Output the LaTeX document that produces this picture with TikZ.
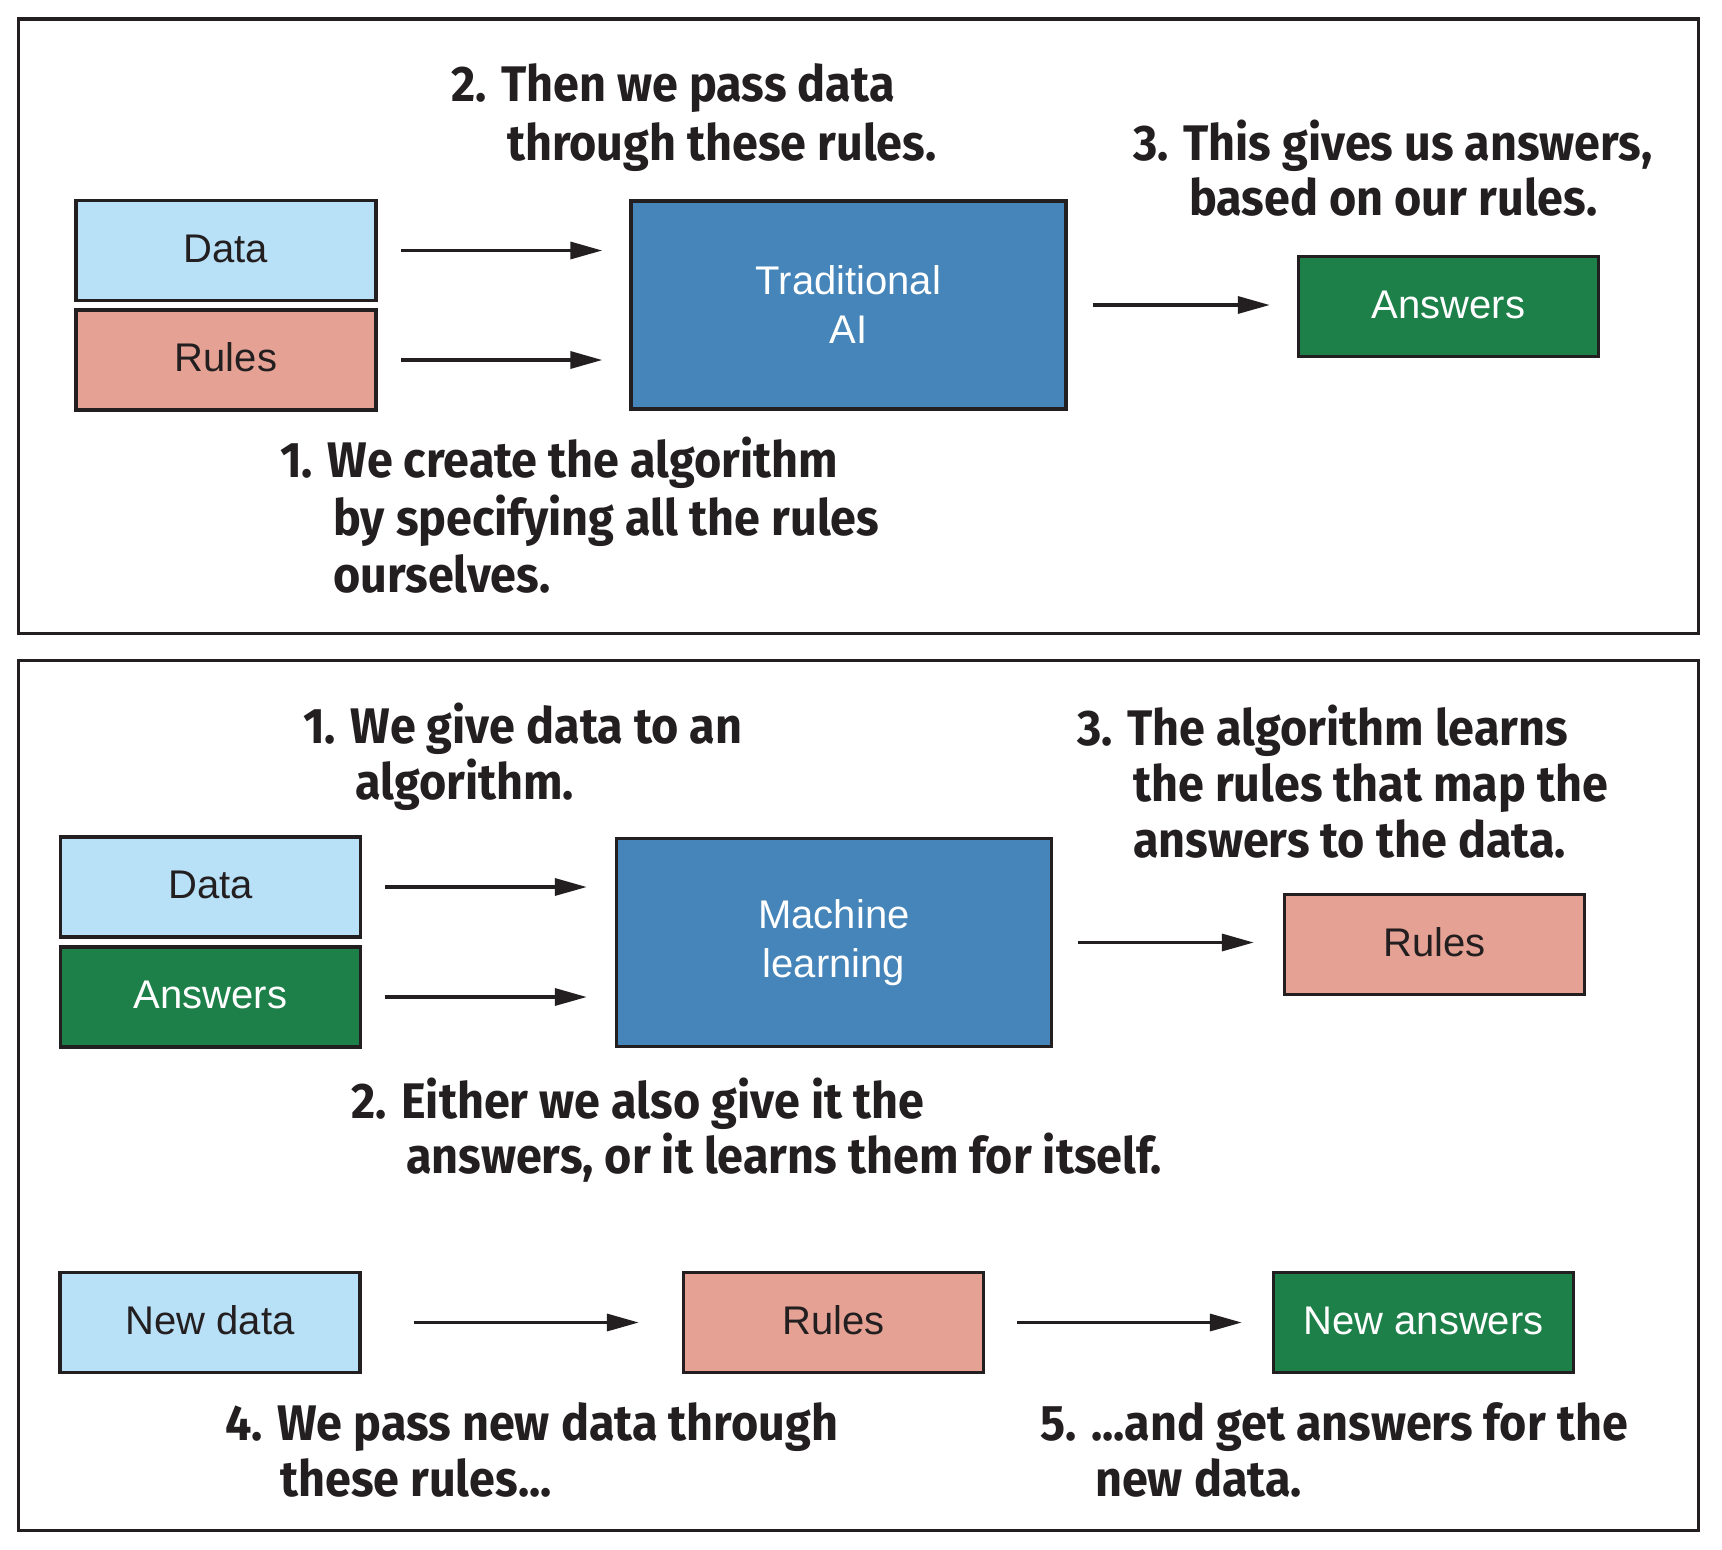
\documentclass[tikz,border=0pt]{standalone}
\usepackage{fontspec}
\usetikzlibrary{arrows.meta}
\newfontfamily\boxfont{Liberation Sans}
\newfontfamily\notefont{Fira Sans}[FakeStretch=0.935]
\definecolor{ink}{HTML}{231F20}
\definecolor{cdata}{HTML}{B8E0F7}
\definecolor{crules}{HTML}{E4A194}
\definecolor{cblue}{HTML}{4585B9}
\definecolor{cgreen}{HTML}{1E8049}
\begin{document}
\begin{tikzpicture}[x=1pt,y=-1pt,
  boxbase/.style={draw=ink, line width=3.4pt, inner sep=0pt,
    font=\boxfont\fontsize{40}{49}\selectfont, align=center},
  box/.style={boxbase, minimum width=300pt, minimum height=100pt,
    text height=29pt, text depth=6pt},
  bigbox/.style={boxbase, minimum width=435pt, minimum height=208pt},
  note/.style={anchor=base west, inner sep=0pt, text=ink,
    font=\notefont\bfseries\fontsize{50}{57}\selectfont},
  conn/.style={draw=ink, line width=3.4pt, -{Triangle[length=32pt,width=17pt]}},
  panel/.style={draw=ink, line width=3.7pt}]
\fill[white] (0,0) rectangle (1722,1550);
\useasboundingbox (0,0) rectangle (1722,1550);

% panels
\draw[panel] (18.5,19) rectangle (1698.5,633.5);
\draw[panel] (18.5,660.5) rectangle (1698.5,1530.5);

% top panel boxes
\node[box, fill=cdata, text=ink] (data1) at (226,250.5) {Data};
\node[box, fill=crules, text=ink] (rules1) at (226,360) {Rules};
\node[bigbox, fill=cblue, text=white] (trad) at (848.5,305) {Traditional\\AI};
\node[box, fill=cgreen, text=white] (ans1) at (1448.5,306.5) {Answers};

\draw[conn, shorten <=23pt, shorten >=27pt] (data1.east) -- (data1.east -| trad.west);
\draw[conn, shorten <=23pt, shorten >=27pt] (rules1.east) -- (rules1.east -| trad.west);
\draw[conn, shorten <=25pt, shorten >=27pt] (trad.east) -- (trad.east -| ans1.west);

% top panel notes
\node[note] (t2a) at (451,101.7) {2. Then we pass data};
\node[note] (t2b) at (507,160) {through these rules.};
\node[note] (t3a) at (1133,160) {3. This gives us answers,};
\node[note] (t3b) at (1189,215) {based on our rules.};
\node[note] (t1a) at (280,477) {1. We create the algorithm};
\node[note] (t1b) at (333,535) {by specifying all the rules};
\node[note] (t1c) at (333,592) {ourselves.};

% bottom panel boxes
\node[box, fill=cdata, text=ink] (data2) at (210.5,887) {Data};
\node[box, fill=cgreen, text=white] (ans2) at (210.5,997) {Answers};
\node[bigbox, fill=cblue, text=white] (ml) at (834,942.5) {Machine\\learning};
\node[box, fill=crules, text=ink] (rules2) at (1434.5,944.5) {Rules};

\draw[conn, shorten <=22.5pt, shorten >=28pt] (data2.east) -- (data2.east -| ml.west);
\draw[conn, shorten <=22.5pt, shorten >=28pt] (ans2.east) -- (ans2.east -| ml.west);
\draw[conn, shorten <=25pt, shorten >=29pt] (ml.east) -- (ml.east -| rules2.west);

\node[box, fill=cdata, text=ink] (newdata) at (210,1322.5) {New data};
\node[box, fill=crules, text=ink] (rules3) at (833.5,1322.5) {Rules};
\node[box, fill=cgreen, text=white] (newans) at (1423.5,1322.5) {New answers};

\draw[conn, shorten <=52pt, shorten >=43pt] (newdata) -- (rules3);
\draw[conn, shorten <=32pt, shorten >=30pt] (rules3) -- (newans);

% bottom panel notes
\node[note] (b1a) at (303,743.5) {1. We give data to an};
\node[note] (b1b) at (355,799) {algorithm.};
\node[note] (b3a) at (1077,745) {3. The algorithm learns};
\node[note] (b3b) at (1133,801.5) {the rules that map the};
\node[note] (b3c) at (1133,857) {answers to the data.};
\node[note] (b2a) at (351,1118) {2. Either we also give it the};
\node[note] (b2b) at (406,1173) {answers, or it learns them for itself.};
\node[note] (b4a) at (225,1440) {4. We pass new data through};
\node[note] (b4b) at (280,1496) {these rules...};
\node[note] (b5a) at (1040,1440) {5. ...and get answers for the};
\node[note] (b5b) at (1095,1496) {new data.};
\end{tikzpicture}
\end{document}
